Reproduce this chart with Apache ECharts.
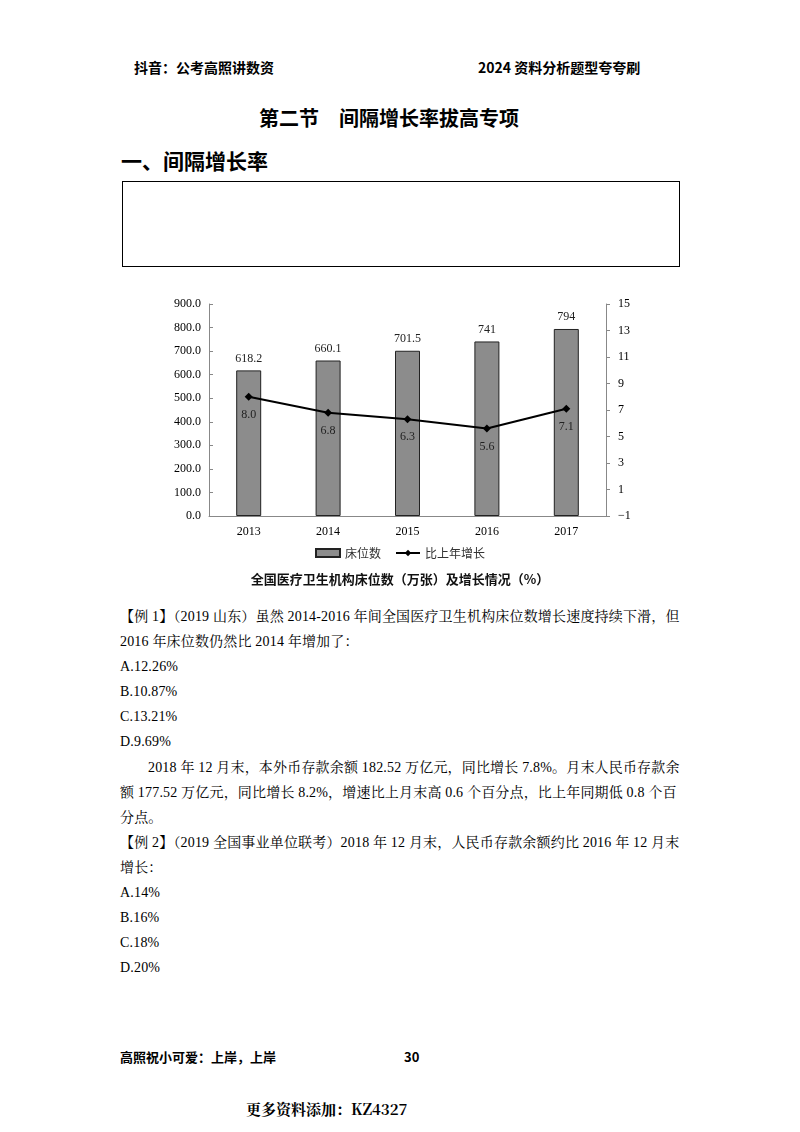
<!DOCTYPE html>
<html><head><meta charset="utf-8">
<script src="https://cdn.jsdelivr.net/npm/echarts@6/dist/echarts.min.js"></script>
<style>
body{margin:0;width:800px;height:1132px;background:#fff;position:relative;font-family:"Liberation Serif","Noto Serif CJK SC","Noto Sans CJK SC",serif;color:#000}
.t{position:absolute;white-space:nowrap;font-size:14px;line-height:16px;letter-spacing:0.18px}
.b{font-family:"Noto Sans CJK SC",sans-serif;font-weight:bold;letter-spacing:0}
</style></head><body>
<div class="t b" style="left:134px;top:59px;font-size:14px">抖音：公考高照讲数资</div>
<div class="t b" style="left:478px;top:59px;font-size:14px">2024 资料分析题型夸夸刷</div>
<div class="t b" style="left:259px;top:106px;font-size:20px;line-height:24px">第二节　间隔增长率拔高专项</div>
<div class="t b" style="left:121px;top:147px;font-size:21px;line-height:26px">一、间隔增长率</div>
<div style="position:absolute;left:122px;top:181px;width:556px;height:84px;border:1px solid #000"></div>
<div id="c" style="position:absolute;left:160px;top:292px;width:480px;height:305px"></div>
<div class="t" style="left:120px;top:609px">【例 1】（2019 山东）虽然 2014-2016 年间全国医疗卫生机构床位数增长速度持续下滑，但</div>
<div class="t" style="left:120px;top:634px">2016 年床位数仍然比 2014 年增加了：</div>
<div class="t" style="left:120px;top:659px">A.12.26%</div>
<div class="t" style="left:120px;top:684px">B.10.87%</div>
<div class="t" style="left:120px;top:709px">C.13.21%</div>
<div class="t" style="left:120px;top:734px">D.9.69%</div>
<div class="t" style="left:148px;top:760px">2018 年 12 月末，本外币存款余额 182.52 万亿元，同比增长 7.8%。月末人民币存款余</div>
<div class="t" style="left:120px;top:785px">额 177.52 万亿元，同比增长 8.2%，增速比上月末高 0.6 个百分点，比上年同期低 0.8 个百</div>
<div class="t" style="left:120px;top:810px">分点。</div>
<div class="t" style="left:120px;top:835px">【例 2】（2019 全国事业单位联考）2018 年 12 月末，人民币存款余额约比 2016 年 12 月末</div>
<div class="t" style="left:120px;top:860px">增长：</div>
<div class="t" style="left:120px;top:885px">A.14%</div>
<div class="t" style="left:120px;top:910px">B.16%</div>
<div class="t" style="left:120px;top:935px">C.18%</div>
<div class="t" style="left:120px;top:960px">D.20%</div>
<div class="t b" style="left:120px;top:1049px;font-size:13px">高照祝小可爱：上岸，上岸</div>
<div class="t b" style="left:404px;top:1049px;font-size:13px">30</div>
<div class="t b" style="left:246px;top:1101px;font-size:15px;font-family:'Noto Serif CJK SC','Noto Sans CJK SC',serif">更多资料添加：KZ4327</div>
<script>
var years = ['2013', '2014', '2015', '2016', '2017'];
var beds = [618.2, 660.1, 701.5, 741, 794];
var growth = [8.0, 6.8, 6.3, 5.6, 7.1];

var chart = echarts.init(document.getElementById('c'));
var serif = 'Liberation Serif';
chart.setOption({
    animation: false,
    textStyle: { fontFamily: serif, color: '#000' },
    grid: { left: 49, right: 34, top: 12, bottom: 81 },
    title: {
        text: '全国医疗卫生机构床位数（万张）及增长情况（%）',
        left: 'center', bottom: 6,
        textStyle: { fontFamily: 'Noto Sans CJK SC', fontSize: 13, fontWeight: 'bold', color: '#111' }
    },
    legend: {
        bottom: 33, itemGap: 14, itemWidth: 24, itemHeight: 8,
        textStyle: { fontFamily: 'Noto Sans CJK SC', fontSize: 12, color: '#333' },
        data: [{ name: '床位数', icon: 'rect' }, { name: '比上年增长' }]
    },
    xAxis: {
        type: 'category', data: years,
        axisLine: { lineStyle: { color: '#888' } },
        axisTick: { show: false },
        axisLabel: { fontSize: 12, color: '#000', margin: 10 }
    },
    yAxis: [{
        type: 'value', min: 0, max: 900, interval: 100,
        axisLine: { show: true, lineStyle: { color: '#888' } },
        axisTick: { show: true, inside: true, length: 4, lineStyle: { color: '#888' } },
        splitLine: { show: false },
        axisLabel: { fontSize: 12, color: '#000', formatter: function (v) { return v.toFixed(1); } }
    }, {
        type: 'value', min: -1, max: 15, interval: 2,
        axisLine: { show: true, lineStyle: { color: '#888' } },
        axisTick: { show: true, length: 4, lineStyle: { color: '#888' } },
        splitLine: { show: false },
        axisLabel: { fontSize: 12, color: '#000', margin: 12, formatter: function (v) { return v < 0 ? '−' + (-v) : v; } }
    }],
    series: [{
        name: '床位数', type: 'bar', data: beds, barWidth: 25,
        itemStyle: { color: '#8c8c8c', borderColor: '#222', borderWidth: 1 },
        label: { show: true, position: 'top', fontSize: 12, color: '#222', distance: 6 }
    }, {
        name: '比上年增长', type: 'line', yAxisIndex: 1, data: growth,
        symbol: 'diamond', symbolSize: 8,
        lineStyle: { color: '#000', width: 2 }, itemStyle: { color: '#000' },
        label: { show: true, position: 'bottom', distance: 8, fontSize: 12, color: '#222',
            formatter: function (p) { return p.value.toFixed(1); } }
    }]
});
</script>
</body></html>
